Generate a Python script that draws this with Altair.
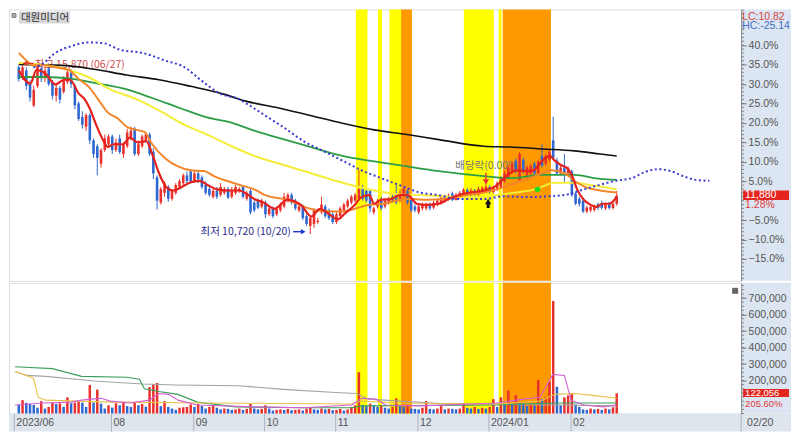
import altair as alt
import pandas as pd

# ---------------- data (percent vs. base price) ----------------
opens = [34.3, 31.8, 33.5, 30.0, 24.5, 29.5, 34.0, 31.5, 34.0, 30.5,
         27.0, 29.0, 28.0, 30.5, 33.0, 29.5, 25.0, 21.5, 19.0, 22.0,
         15.5, 14.0, 9.5, 13.0, 14.5, 16.5, 13.0, 16.0, 12.0, 14.0,
         16.0, 18.5, 12.0, 14.0, 15.5, 17.0, 12.5, 6.0, -0.5, 2.0,
         3.5, 0.5, 2.0, 3.5, 4.5, 6.5, 7.5, 5.0, 7.0, 6.0,
         4.0, 3.0, 1.0, 2.5, 1.5, 2.0, 3.0, 1.0, 2.0, 2.5,
         3.5, 0.5, 2.5, -0.5, 0.0, -1.5, -0.5, -3.5, -2.0, -3.5,
         -2.5, -1.5, 0.0, 1.5, 0.0, -2.5, -1.5, -4.0, -6.5, -6.0,
         -5.5, -3.0, -1.5, -2.5, -3.5, -5.5, -4.0, -2.5, -1.5, -0.5,
         0.0, 0.5, 3.0, 2.5, 2.5, -3.0, -1.5, 0.5, -1.5, -0.5,
         1.0, 1.5, 0.0, 1.5, 2.5, 0.5, -1.5, -3.0, -2.0, -2.0,
         -1.0, -1.8, -1.0, -0.5, -0.2, 0.3, 1.8, 0.2, 1.0, 1.5,
         2.8, 1.4, 2.6, 1.6, 2.2, 2.6, 3.5, 2.2, 2.9, 3.5,
         5.0, 6.0, 7.5, 10.3, 5.3, 10.5, 6.5, 7.0, 9.5, 7.0,
         11.5, 9.5, 10.5, 15.5, 10.3, 7.0, 8.5, 7.0, 7.5, 1.8,
         0.5, 0.0, -2.8, -2.5, -2.4, -0.9, -0.6, -2.0, -0.8, -1.9,
         -0.8]
highs = [34.8, 35.3, 34.3, 31.0, 29.5, 35.0, 34.8, 34.5, 34.8, 31.0,
         30.0, 29.5, 32.0, 33.5, 33.8, 30.0, 25.5, 23.0, 22.5, 22.5,
         16.0, 14.5, 13.5, 17.0, 17.0, 17.0, 16.0, 17.0, 15.0, 18.5,
         19.0, 19.0, 15.5, 17.0, 17.5, 17.5, 13.5, 6.5, 3.5, 5.0,
         4.0, 3.0, 4.5, 5.5, 7.0, 7.5, 8.0, 7.8, 7.5, 6.5,
         5.0, 4.0, 3.0, 3.5, 4.5, 3.5, 3.5, 3.5, 4.0, 3.5,
         3.8, 2.5, 3.0, 0.0, 0.5, 0.5, 0.0, -1.5, -1.5, -1.5,
         -0.5, 2.0, 2.0, 2.0, 0.5, -1.0, -1.0, -3.5, -4.0, -2.0,
         -4.5, 1.0, -1.0, -2.0, -3.0, -3.0, -1.5, -0.5, 0.5, 1.5,
         2.0, 8.0, 4.0, 3.0, 3.0, -1.5, 0.5, 1.0, 0.5, 1.0,
         1.5, 4.0, 3.0, 3.5, 3.0, 1.0, -1.0, -1.0, -0.5, -0.5,
         -0.5, 0.0, 0.5, 1.3, 1.5, 1.8, 2.3, 2.0, 2.5, 3.2,
         3.2, 3.3, 3.0, 3.6, 3.8, 4.2, 4.0, 3.8, 5.0, 6.3,
         7.6, 9.0, 10.0, 10.8, 12.5, 11.0, 9.0, 9.5, 10.0, 10.5,
         14.5, 12.0, 13.0, 21.6, 11.0, 9.0, 12.0, 8.8, 8.0, 2.3,
         1.0, 0.5, -1.3, -1.0, -1.0, -0.5, 0.0, -0.5, -0.3, -0.3,
         2.5]
lows = [30.6, 31.0, 28.5, 25.5, 24.0, 29.0, 30.5, 30.5, 29.5, 26.0,
        25.5, 25.0, 27.5, 30.0, 29.0, 23.5, 20.5, 18.5, 18.0, 14.5,
        11.0, 6.5, 8.5, 12.5, 14.0, 12.0, 12.5, 12.0, 11.0, 13.5,
        15.5, 11.5, 11.5, 13.5, 15.0, 11.5, 5.5, -2.3, -1.0, 1.0,
        -0.3, 0.0, 1.5, 3.0, 4.0, 4.5, 4.6, 4.6, 4.5, 3.0,
        1.5, 1.0, 0.5, 0.4, 1.0, 1.5, 0.4, 0.5, 1.5, 2.0,
        0.5, 0.0, -3.5, -3.0, -2.2, -2.0, -4.5, -4.0, -4.5, -4.0,
        -3.0, -2.0, -0.5, -1.0, -2.5, -3.0, -5.0, -6.5, -8.6, -7.0,
        -6.0, -3.5, -4.5, -5.0, -6.0, -6.0, -4.5, -3.0, -2.0, -1.0,
        -0.5, 0.0, 0.0, -0.5, -3.0, -3.6, -2.0, -2.5, -2.0, -1.0,
        -0.5, -1.0, -0.5, 1.0, -1.0, -3.0, -3.0, -3.5, -2.5, -2.5,
        -2.5, -2.2, -1.5, -1.0, -0.5, 0.0, -0.2, 0.0, 0.5, 1.2,
        0.8, 1.0, 1.2, 1.2, 1.8, 2.2, 1.8, 1.8, 2.5, 3.0,
        4.6, 5.8, 7.0, 7.0, 5.0, 7.0, 5.5, 6.5, 6.5, 6.5,
        8.5, 9.0, 10.0, 10.5, 6.5, 6.5, 4.6, 6.5, 1.0, -1.2,
        -1.5, -3.2, -3.2, -3.0, -2.8, -2.4, -2.3, -2.4, -2.3, -2.3,
        -1.3]
closes = [31.3, 34.3, 29.5, 26.5, 28.5, 34.5, 31.5, 33.5, 30.0, 27.0,
          29.0, 26.0, 31.0, 33.0, 30.0, 24.5, 21.0, 19.5, 22.0, 15.5,
          12.0, 11.0, 13.0, 16.0, 16.5, 13.0, 15.0, 12.5, 14.5, 17.5,
          18.0, 12.0, 14.5, 16.5, 17.0, 12.0, 7.0, 0.0, 3.0, 4.5,
          0.5, 2.5, 4.0, 5.0, 6.5, 5.0, 5.0, 7.0, 5.5, 3.5,
          2.0, 1.5, 2.5, 1.0, 3.5, 3.0, 0.8, 2.5, 3.5, 3.0,
          1.0, 2.0, -3.0, -2.5, -1.8, 0.0, -3.5, -2.0, -4.0, -2.0,
          -1.0, 1.0, 1.5, -0.5, -2.0, -1.5, -4.5, -6.0, -4.5, -2.5,
          -5.2, -1.0, -4.0, -4.5, -5.5, -3.5, -2.0, -1.0, 0.0, 1.0,
          1.5, 3.0, 0.5, 0.0, -2.0, -2.0, 0.0, -2.0, 0.0, 0.5,
          0.0, -0.5, 2.0, 3.0, -0.5, -2.5, -2.5, -1.5, -1.0, -1.0,
          -2.0, -0.5, 0.0, 0.8, 1.0, 1.3, 0.3, 1.5, 2.0, 2.8,
          1.2, 2.6, 1.6, 3.0, 3.3, 3.6, 2.3, 3.3, 4.5, 5.8,
          7.0, 8.5, 9.5, 7.6, 12.0, 7.8, 8.5, 9.0, 7.0, 10.0,
          9.0, 11.5, 12.5, 11.0, 7.0, 8.5, 7.0, 8.3, 1.4, -0.8,
          -0.8, -2.8, -1.8, -1.6, -1.6, -1.9, -1.9, -1.0, -1.9, -0.8,
          1.28]
vol_k = [52, 81, 64, 57, 52, 35, 75, 30, 40, 64,
         58, 62, 40, 98, 62, 66, 72, 66, 40, 173,
         66, 145, 60, 30, 50, 36, 62, 50, 72, 45,
         40, 68, 50, 58, 42, 160, 175, 185, 45, 75,
         40, 30, 22, 35, 38, 40, 55, 40, 58, 45,
         30, 40, 48, 35, 25, 30, 28, 22, 25, 30,
         22, 28, 58, 30, 25, 28, 50, 30, 18, 22,
         25, 22, 28, 20, 22, 25, 18, 30, 35, 25,
         22, 30, 25, 28, 20, 22, 28, 18, 25, 40,
         50, 250, 52, 45, 60, 50, 40, 45, 35, 30,
         40, 92, 45, 40, 50, 30, 28, 25, 35, 75,
         28, 25, 30, 45, 25, 30, 28, 25, 30, 64,
         35, 30, 40, 28, 35, 30, 40, 87, 40, 98,
         55, 139, 60, 110, 70, 60, 45, 55, 50, 202,
         87, 98, 191, 682, 162, 50, 98, 110, 118, 55,
         40, 25, 22, 30, 25, 28, 22, 30, 25, 38,
         122.056]

# moving-average lines (candle index, value)
ma_red = [(0, 33.5), (3.1, 30.1), (4.7, 33.6), (7.2, 32.6), (9.8, 29.9), (12.1, 31.1), (13.7, 31.1),
          (16, 27.6), (17.6, 26.1), (18.9, 23.9), (20.7, 19.5), (22.7, 15.3), (23.8, 13.8), (25.3, 14.5),
          (27.9, 14.5), (29.7, 16.2), (31.8, 15), (34.1, 15.3), (35.7, 12), (37.5, 7.1), (39.5, 3.4),
          (41.3, 2.6), (43.4, 3.4), (45.7, 4.6), (48.3, 5.1), (50.4, 4.1), (53, 2.9), (56.1, 2.6),
          (58.9, 2.6), (61.5, 1.4), (63, 0.4), (65.1, -0.3), (68.5, -2.1), (71.8, 0.2), (75.5, -1.1),
          (78.3, -4.1), (80.6, -2.1), (83.2, -3.6), (85.3, -4.8), (87.3, -3.3), (89.9, -1.1), (91.7, 0.9),
          (93.8, 1.4), (95.1, -0.8), (96.9, 0.2), (99.5, 0.4), (102.1, 1.4), (104.1, 1.4), (106.5, -0.8),
          (109, -1.1), (112.4, -0.8), (115, 0.4), (117.6, 1.4), (120.9, 2.1), (124.5, 2.6), (127.9, 3.9),
          (130.5, 6.3), (133.1, 7.8), (135.7, 7.6), (137.7, 7.8), (140.1, 10.3), (142.1, 11.5),
          (143.4, 10.3), (145.2, 9.1), (146.8, 8.3), (148.1, 6.3), (149.4, 2.9), (151.2, 0.2),
          (153, -1.1), (154.5, -1.6), (156.3, -0.8), (158.1, -0.8), (160, 1.0)]
ma_orange = [(0, 38), (2.1, 36), (3.9, 34.8), (7.2, 34.8), (9.8, 34.3), (13.4, 33.6), (16, 31.3),
             (18.6, 29.4), (21.2, 26.1), (23.8, 22.7), (26.4, 21.2), (28.9, 19), (31.5, 18.2),
             (33.6, 17.7), (35.7, 14.5), (39.3, 10.8), (42.6, 8.8), (46, 7.8), (49.6, 7.6), (52.2, 6.3),
             (55.6, 5.1), (58.9, 4.1), (63, 2.9), (65.9, 1.4), (71.8, 0.2), (78, -2.1), (83.2, -2.8),
             (86.6, -2.8), (89.9, -2.1), (93.5, -1.1), (97.7, -0.8), (102.1, 0.2), (105.4, 0.4),
             (109, 0.2), (114.2, 0.4), (119.4, 1.4), (124.5, 2.1), (127.9, 2.9), (133.1, 4.6),
             (138.2, 6.3), (142.6, 7.8), (146, 7.1), (148.6, 5.1), (151.9, 3.4), (155.6, 2.6), (160, 2.1)]
ma_yellow = [(0, 35.5), (7.2, 34.8), (13.4, 33.6), (18.6, 31.8), (24.5, 28.6), (31.5, 26.1), (37.5, 23.2),
             (44.4, 19.5), (50.4, 17), (57.4, 13.8), (63, 11.5), (69.3, 9.6), (78, 7.1), (86.6, 4.6),
             (95.1, 2.6), (102.1, 1.6), (109, 1.4), (117.6, 0.9), (124.5, 0.9), (127.9, 1.4), (133.1, 2.1),
             (138.2, 2.9), (143.4, 4.6), (148.6, 4.6), (153.7, 3.9), (160, 2.9)]
ma_green = [(0, 31.8), (7.2, 31.8), (14.2, 31.3), (21.2, 30.1), (28.9, 28.6), (35.7, 26.4), (43.4, 23.7),
            (50.4, 21.4), (57.4, 19.9), (63, 18), (69.3, 16.2), (78, 13.8), (86.6, 11.5), (95.1, 10.1),
            (103.9, 8.8), (112.4, 7.6), (124.5, 6.3), (131.3, 5.8), (140.1, 6.6), (148.6, 6.6),
            (155.6, 5.6), (160, 5.3)]
ma_black = [(0, 35), (11.6, 34.8), (20.2, 33.8), (28.9, 32.3), (37.5, 31.1), (46, 29.4), (54.8, 27.4),
            (60.7, 25.6), (69.3, 23.9), (78, 21.9), (86.6, 19.9), (95.1, 18.2), (103.9, 17), (112.4, 15.7),
            (124.5, 14), (131.3, 13.8), (140.1, 13.3), (148.6, 12.8), (155.6, 12), (160, 11.5)]
ma_dotted = [(3.9, 34.3), (5.7, 34.8), (9.8, 38), (14.2, 39.8), (18.6, 40.7), (22.7, 40.5), (27.1, 38.8),
             (33.1, 38), (39.3, 36), (44.4, 34.3), (48.6, 31.1), (53.7, 27.6), (58.9, 26.1), (60.7, 25.1),
             (65.9, 21.9), (71.1, 18.7), (76.2, 15.3), (81.4, 12.8), (86.6, 10.3), (91.7, 7.8), (96.9, 5.8),
             (102.1, 3.9), (107.2, 2.1), (112.4, 1.4), (117.6, 0.4), (124.5, 0.4), (129.7, 1.1),
             (136.4, 0.9), (141.6, 1.1), (146.8, 1.6), (151.2, 2.9), (155.6, 4.1), (159.7, 5.1),
             (164.1, 5.8), (167.4, 7.3), (171.1, 8.1), (174.4, 7.6), (177.8, 6.3), (181.4, 5.3), (184.8, 5.1)]

# volume moving averages (candle index, thousand shares)
vma_green = [(-1, 283), (9, 272), (16.8, 225), (28.9, 220), (32.3, 208), (33.6, 150), (37.5, 133),
             (42.6, 116), (47.8, 69), (58.1, 40), (76.2, 35), (89.1, 35), (91.7, 46), (127.9, 52),
             (143.4, 64), (160, 64)]
vma_gray = [(-1, 254), (2.1, 231), (7.2, 225), (20.2, 197), (33.1, 179), (41.9, 173), (58.9, 168),
            (71.8, 145), (84.8, 127), (90.4, 121), (93.5, 87), (102.1, 75), (115, 58), (143.4, 52), (160, 46)]
vma_yellow = [(-1, 254), (3.9, 214), (5.2, 98), (7.2, 81), (24.5, 69), (50.4, 64), (89.1, 58), (91.7, 75),
              (102.1, 64), (127.9, 58), (139.5, 75), (143.4, 116), (148.6, 121), (153.7, 110), (160, 92)]
vma_pink = [(-1, 52), (6.5, 64), (14.2, 69), (16.8, 81), (19.4, 87), (22, 92), (24.5, 75), (29.7, 64),
            (34.9, 81), (37.5, 121), (40.1, 116), (42.6, 81), (47.8, 52), (63.3, 40), (76.2, 35),
            (89.1, 52), (91.7, 92), (95.6, 87), (98.2, 52), (107.2, 46), (127.9, 64), (133.1, 81),
            (139.5, 98), (142.9, 237), (146, 231), (147.8, 81), (151.2, 52), (156.3, 40), (160, 52)]

# highlighted periods (candle index ranges)
band_start = [90.2, 96.1, 99.2, 102.3, 119.1, 128.4, 129.5]
band_end = [93.3, 97.2, 102.3, 105.2, 127.1, 129.2, 142.4]
band_kind = ["y", "y", "y", "o", "y", "y", "o"]

month_labels = ["2023/06", "08", "09", "10", "11", "12", "2024/01", "02"]
month_start_idx = [0, 26, 48, 67, 86, 108, 127, 149]

price_ticks = [-15, -10, -5, 5, 10, 15, 20, 25, 30, 35, 40]
volume_ticks = [200000, 300000, 400000, 500000, 600000, 700000]

# ---------------- layout ----------------
W, H1, H2, STRIP, AX = 734, 272, 131, 18, 50
XD = [-1.29, 191.96]
PD = [-20.64, 49.16]
VD = [0, 792000]
RED = "#e8312c"
BLUE = "#2f67d0"
YEL = "#ffff00"
ORA = "#ff9900"
FONT = "Liberation Sans"
KFONT = "Noto Sans CJK KR"
AXBG = "#dce6f2"

n = len(closes)
cdf = pd.DataFrame({"i": list(range(n)), "o": opens, "h": highs, "l": lows, "c": closes})
cdf["d"] = ["up" if c >= o else "dn" for o, c in zip(opens, closes)]
vols = [round(v * 1000) for v in vol_k]
vdf = pd.DataFrame({"i": list(range(n)), "v": vols})
vdf["d"] = ["dn" if k == 0 or vols[k] < vols[k - 1] else "up" for k in range(n)]
bdf = pd.DataFrame({"s": band_start, "e": band_end, "k": band_kind})
ydf = bdf[bdf["k"] == "y"]
odf = bdf[bdf["k"] == "o"]

xs = alt.Scale(domain=XD, nice=False, zero=False)
ps = alt.Scale(domain=PD, nice=False, zero=False)
vs = alt.Scale(domain=VD, nice=False)
dcol = alt.Color("d:N", scale=alt.Scale(domain=["up", "dn"], range=[RED, BLUE]), legend=None)

PAX = alt.Axis(orient="right", values=price_ticks, labelExpr="format(datum.value, '.1f') + '%'",
               tickSize=5, tickColor="#777", domainColor="#888", labelColor="#555", labelFont=FONT,
               labelFontSize=10.5, labelPadding=2, grid=False, title=None, zindex=1)
VAX = alt.Axis(orient="right", values=volume_ticks, format=",d",
               tickSize=5, tickColor="#777", domainColor="#888", labelColor="#555", labelFont=FONT,
               labelFontSize=10.5, labelPadding=2, grid=False, title=None, zindex=1)


def X(f):
    return alt.X(f, scale=xs, axis=None)


def PY(f):
    return alt.Y(f, scale=ps, axis=PAX)


def VY(f):
    return alt.Y(f, scale=vs, axis=VAX)


def pts(lst, col="p"):
    return pd.DataFrame(lst, columns=["i", col])


one = pd.DataFrame({"z": [0]})

# ---------------- price panel ----------------
p_layers = []
p_layers.append(alt.Chart(one).mark_rect(color=AXBG).encode(
    x=alt.value(W), x2=alt.value(W + AX), y=alt.value(0), y2=alt.value(H1)))
p_layers.append(alt.Chart(ydf).mark_rect(color=YEL).encode(
    x=X("s:Q"), x2="e:Q", y=alt.value(0), y2=alt.value(H1)))
p_layers.append(alt.Chart(odf).mark_rect(color=ORA).encode(
    x=X("s:Q"), x2="e:Q", y=alt.value(0), y2=alt.value(H1)))
p_layers.append(alt.Chart(pd.DataFrame({"t": list(range(-20, 50))})).mark_rule(color="#888").encode(
    x=alt.value(W), x2=alt.value(W + 3), y=PY("t:Q")))
# annotations under candles
p_layers.append(alt.Chart(pd.DataFrame({"i": [4.2], "p": [34.9], "t": ["최고 15,870 (06/27)"]})).mark_text(
    align="left", baseline="middle", font=KFONT, fontSize=10.5, color="#d24b4b").encode(
    x=X("i:Q"), y=PY("p:Q"), text="t:N"))
p_layers.append(alt.Chart(pd.DataFrame({"i": [116.8], "p": [8.8], "t": ["배당락(0.00%)"]})).mark_text(
    align="left", baseline="middle", font=KFONT, fontSize=10.5, color="#777").encode(
    x=X("i:Q"), y=PY("p:Q"), text="t:N"))
# candles
p_layers.append(alt.Chart(cdf).mark_rule(strokeWidth=1).encode(
    x=X("i:Q"), y=PY("l:Q"), y2="h:Q", color=dcol))
p_layers.append(alt.Chart(cdf).mark_bar(size=2.6).encode(
    x=X("i:Q"), y=PY("o:Q"), y2="c:Q", color=dcol))
# moving averages
for lst, colr, sw in [(ma_black, "#111111", 1.6), (ma_green, "#2e9e46", 1.8), (ma_yellow, "#f4ee38", 2.0),
                      (ma_orange, "#f3862b", 2.0), (ma_red, "#e3221d", 2.2)]:
    p_layers.append(alt.Chart(pts(lst)).mark_line(color=colr, strokeWidth=sw, interpolate="monotone").encode(
        x=X("i:Q"), y=PY("p:Q")))
p_layers.append(alt.Chart(pts(ma_dotted)).mark_line(color="#3a3ad0", strokeWidth=2, strokeDash=[2, 2.6],
                                                     interpolate="monotone").encode(x=X("i:Q"), y=PY("p:Q")))
# markers
p_layers.append(alt.Chart(pd.DataFrame({"i": [1.7, 4.0], "p": [35.3, 35.3]})).mark_line(
    color="#e03030", strokeWidth=1.2).encode(x=X("i:Q"), y=PY("p:Q")))
p_layers.append(alt.Chart(pd.DataFrame({"i": [1.6], "p": [35.3]})).mark_point(
    shape="triangle-left", filled=True, size=28, color="#e03030", opacity=1).encode(x=X("i:Q"), y=PY("p:Q")))
p_layers.append(alt.Chart(pd.DataFrame({"i": [72.8], "p": [-8.0], "t": ["최저 10,720 (10/20)"]})).mark_text(
    align="right", baseline="middle", font=KFONT, fontSize=10.5, color="#2b2b8c").encode(
    x=X("i:Q"), y=PY("p:Q"), text="t:N"))
p_layers.append(alt.Chart(pd.DataFrame({"i": [73.4, 75.9], "p": [-8.0, -8.0]})).mark_line(
    color="#1c36d0", strokeWidth=1.4).encode(x=X("i:Q"), y=PY("p:Q")))
p_layers.append(alt.Chart(pd.DataFrame({"i": [76.1], "p": [-8.0]})).mark_point(
    shape="triangle-right", filled=True, size=28, color="#1c36d0", opacity=1).encode(x=X("i:Q"), y=PY("p:Q")))
p_layers.append(alt.Chart(pd.DataFrame({"i": [125.0, 125.0], "p": [7.2, 5.4]})).mark_line(
    color="#e03030", strokeWidth=1.4).encode(x=X("i:Q"), y=PY("p:Q")))
p_layers.append(alt.Chart(pd.DataFrame({"i": [125.0], "p": [4.8]})).mark_point(
    shape="triangle-down", filled=True, size=40, color="#e03030", opacity=1).encode(x=X("i:Q"), y=PY("p:Q")))
p_layers.append(alt.Chart(pd.DataFrame({"i": [125.6, 125.6], "p": [-0.8, -1.9]})).mark_line(
    color="#111", strokeWidth=3).encode(x=X("i:Q"), y=PY("p:Q")))
p_layers.append(alt.Chart(pd.DataFrame({"i": [125.6], "p": [-0.2]})).mark_point(
    shape="triangle-up", filled=True, size=40, color="#111", opacity=1).encode(x=X("i:Q"), y=PY("p:Q")))
p_layers.append(alt.Chart(pd.DataFrame({"i": [138.8], "p": [2.9]})).mark_point(
    shape="circle", filled=True, size=32, color="#22dd22", opacity=1).encode(x=X("i:Q"), y=PY("p:Q")))
# current price box
last = closes[-1]
p_layers.append(alt.Chart(pd.DataFrame({"t": [last + 1.3], "b": [last - 1.1]})).mark_rect(color="#e5261e").encode(
    x=alt.value(W + 2), x2=alt.value(W + 48), y=PY("t:Q"), y2="b:Q"))
p_layers.append(alt.Chart(pd.DataFrame({"p": [last + 0.1], "t": ["11,880"]})).mark_text(
    align="left", baseline="middle", font=FONT, fontSize=10.5, color="white").encode(
    x=alt.value(W + 4), y=PY("p:Q"), text="t:N"))
p_layers.append(alt.Chart(pd.DataFrame({"p": [last - 2.5], "t": ["1.28%"]})).mark_text(
    align="left", baseline="middle", font=FONT, fontSize=10.5, color="#e0393b").encode(
    x=alt.value(W + 4), y=PY("p:Q"), text="t:N"))
# header texts
p_layers.append(alt.Chart(one).mark_text(text="LC:10.82", align="left", baseline="middle", font=FONT,
                                         fontSize=10.5, color="#d64545").encode(x=alt.value(W + 1), y=alt.value(7)))
p_layers.append(alt.Chart(one).mark_text(text="HC:-25.14", align="left", baseline="middle", font=FONT,
                                         fontSize=10.5, color="#3f6fc0").encode(x=alt.value(W + 1), y=alt.value(17)))
p_layers.append(alt.Chart(one).mark_rect(fill="#a8a8a8", stroke="#888").encode(
    x=alt.value(3), x2=alt.value(7), y=alt.value(4), y2=alt.value(8)))
p_layers.append(alt.Chart(one).mark_rect(fill="#d8d8d8").encode(
    x=alt.value(10), x2=alt.value(61), y=alt.value(2), y2=alt.value(14)))
p_layers.append(alt.Chart(one).mark_text(text="대원미디어", align="left", baseline="middle", font=KFONT,
                                         fontSize=10.5, color="#333").encode(x=alt.value(12), y=alt.value(8)))

price = alt.layer(*p_layers).properties(width=W, height=H1)

# ---------------- volume panel ----------------
mdf = pd.DataFrame({"t": [m - 1.2 for m in month_start_idx], "lab": month_labels})
v_layers = []
v_layers.append(alt.Chart(one).mark_rect(color=AXBG).encode(
    x=alt.value(W), x2=alt.value(W + AX), y=alt.value(0), y2=alt.value(H2)))
v_layers.append(alt.Chart(one).mark_rect(color="#dfe5ed").encode(
    x=alt.value(0), x2=alt.value(W + AX), y=alt.value(H2), y2=alt.value(H2 + STRIP)))
v_layers.append(alt.Chart(ydf).mark_rect(color=YEL).encode(
    x=X("s:Q"), x2="e:Q", y=alt.value(0), y2=alt.value(H2)))
v_layers.append(alt.Chart(odf).mark_rect(color=ORA).encode(
    x=X("s:Q"), x2="e:Q", y=alt.value(0), y2=alt.value(H2)))
v_layers.append(alt.Chart(pd.DataFrame({"t": list(range(0, 800000, 25000))})).mark_rule(color="#888").encode(
    x=alt.value(W), x2=alt.value(W + 3), y=VY("t:Q")))
v_layers.append(alt.Chart(vdf).mark_bar(size=2.5).encode(x=X("i:Q"), y=VY("v:Q"), color=dcol))
for lst, colr in [(vma_gray, "#a3a3a3"), (vma_green, "#3aa05a"), (vma_yellow, "#e9c24a"), (vma_pink, "#d35fd3")]:
    df = pts(lst, "k")
    df["v"] = df["k"] * 1000
    v_layers.append(alt.Chart(df).mark_line(color=colr, strokeWidth=1.1).encode(x=X("i:Q"), y=VY("v:Q")))
v_layers.append(alt.Chart(pd.DataFrame({"t": [vols[-1] + 26000], "b": [vols[-1] - 22000]})).mark_rect(
    color="#e5261e").encode(x=alt.value(W + 2), x2=alt.value(W + 48), y=VY("t:Q"), y2="b:Q"))
v_layers.append(alt.Chart(pd.DataFrame({"v": [vols[-1] + 2000], "t": ["122,056"]})).mark_text(
    align="left", baseline="middle", font=FONT, fontSize=9.5, color="white").encode(
    x=alt.value(W + 4), y=VY("v:Q"), text="t:N"))
v_layers.append(alt.Chart(pd.DataFrame({"v": [vols[-1] - 62000], "t": ["205.60%"]})).mark_text(
    align="left", baseline="middle", font=FONT, fontSize=9.5, color="#e0393b").encode(
    x=alt.value(W + 4), y=VY("v:Q"), text="t:N"))
v_layers.append(alt.Chart(one).mark_rect(fill="#666").encode(
    x=alt.value(W - 9), x2=alt.value(W - 3), y=alt.value(5), y2=alt.value(11)))
# date strip
v_layers.append(alt.Chart(mdf).mark_rule(color="#a9b3bf").encode(
    x=X("t:Q"), y=alt.value(H2), y2=alt.value(H2 + STRIP)))
v_layers.append(alt.Chart(mdf).mark_text(align="left", baseline="middle", dx=2, font=FONT, fontSize=10.5,
                                         color="#555").encode(x=X("t:Q"), y=alt.value(H2 + 9.5), text="lab:N"))
v_layers.append(alt.Chart(one).mark_rule(color="#a9b3bf").encode(
    x=alt.value(W), y=alt.value(H2), y2=alt.value(H2 + STRIP)))
v_layers.append(alt.Chart(one).mark_text(text="02/20", align="left", baseline="middle", font=FONT,
                                         fontSize=10.5, color="#555").encode(x=alt.value(W + 6),
                                                                             y=alt.value(H2 + 9.5)))

volume = alt.layer(*v_layers).properties(width=W, height=H2)

chart = alt.vconcat(price, volume, spacing=0, padding=0).configure_view(
    stroke="#9c9c9c", strokeWidth=1).configure(background="white")

chart.save("out.html", embed_options={"renderer": "svg", "actions": False})
